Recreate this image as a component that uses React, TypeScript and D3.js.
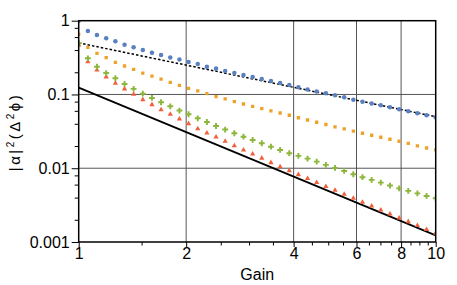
import React, { useRef, useEffect } from 'react';
import * as d3 from 'd3';

// gain samples (log spaced, 40 points from 1 to 10)
const gain = [
  1.0, 1.061, 1.125, 1.194, 1.267, 1.344, 1.425, 1.512, 1.604, 1.701,
  1.805, 1.915, 2.031, 2.155, 2.286, 2.425, 2.572, 2.729, 2.895, 3.071,
  3.257, 3.455, 3.666, 3.889, 4.125, 4.376, 4.642, 4.925, 5.224, 5.542,
  5.879, 6.236, 6.616, 7.018, 7.445, 7.898, 8.378, 8.887, 9.428, 10.0,
];

const blueVals = [
  1.0, 0.725, 0.64, 0.577, 0.526, 0.473, 0.436, 0.401, 0.368, 0.343,
  0.317, 0.297, 0.275, 0.259, 0.238, 0.224, 0.208, 0.195, 0.184, 0.173,
  0.162, 0.152, 0.143, 0.134, 0.125, 0.117, 0.11, 0.104, 0.0975, 0.0916,
  0.0851, 0.0798, 0.0757, 0.0714, 0.0671, 0.063, 0.0592, 0.0556, 0.0523, 0.0491,
];

const orangeVals = [
  0.654, 0.436, 0.361, 0.315, 0.273, 0.243, 0.219, 0.195, 0.177, 0.161,
  0.146, 0.133, 0.121, 0.112, 0.1025, 0.0933, 0.0869, 0.0798, 0.0743, 0.0691,
  0.0643, 0.0598, 0.0561, 0.0523, 0.0483, 0.0451, 0.042, 0.0392, 0.0364, 0.0341,
  0.0318, 0.0298, 0.028, 0.0263, 0.0247, 0.0232, 0.0217, 0.0201, 0.0188, 0.0177,
];

const greenVals = [
  0.5, 0.309, 0.238, 0.195, 0.166, 0.139, 0.119, 0.1025, 0.0897, 0.0784,
  0.0691, 0.0605, 0.054, 0.0475, 0.0424, 0.0374, 0.0334, 0.0298, 0.0268, 0.0242,
  0.0218, 0.0196, 0.0177, 0.016, 0.0147, 0.0135, 0.0123, 0.0111, 0.0101, 0.0092,
  0.0083, 0.00757, 0.00695, 0.00638, 0.00582, 0.00533, 0.00493, 0.00456, 0.00421, 0.00392,
];

const redVals = [
  0.47, 0.278, 0.215, 0.173, 0.142, 0.119, 0.1007, 0.0851, 0.0728, 0.0622,
  0.054, 0.0466, 0.0402, 0.0343, 0.0301, 0.0265, 0.0232, 0.0202, 0.0177, 0.0156,
  0.0137, 0.0119, 0.0105, 0.00928, 0.00819, 0.00725, 0.0064, 0.00566, 0.00503, 0.00444,
  0.00392, 0.00346, 0.00308, 0.00272, 0.0024, 0.00212, 0.00189, 0.00167, 0.00148, 0.00132,
];

// reference lines
const lineGain = [1, 10];
const dottedVals = [0.5, 0.05];
const solidVals = [0.124, 0.00123];

const xMajor = [1, 2, 4, 6, 8, 10];
const xMinor = [1.5, 2.5, 3, 3.5, 4.5, 5, 5.5, 6.5, 7, 7.5, 8.5, 9, 9.5];
const yMajor = [0.001, 0.01, 0.1, 1];
const yMinor = [0.002, 0.004, 0.006, 0.008, 0.02, 0.04, 0.06, 0.08, 0.2, 0.4, 0.6, 0.8];
const xGrid = [2, 4, 6, 8];
const yGrid = [0.01, 0.1];

const FONT = '"Liberation Sans", Arial, Helvetica, sans-serif';

function App() {
  const ref = useRef(null);

  useEffect(() => {
    const node = ref.current;
    node.querySelectorAll('*').forEach(n => n.remove());
    const svg = d3.select(node);

    const left = 78.7, right = 435.7, top = 20.7, bottom = 242;

    const x = d3.scaleLog().domain([1, 10]).range([left, right]);
    const y = d3.scaleLog().domain([0.001, 1]).range([bottom, top]);

    svg.append('defs').append('clipPath').attr('id', 'plotclip')
      .append('rect')
      .attr('x', left).attr('y', top)
      .attr('width', right - left).attr('height', bottom - top);

    // grid
    svg.append('g').selectAll('line').data(xGrid).join('line')
      .attr('x1', d => x(d)).attr('x2', d => x(d))
      .attr('y1', top).attr('y2', bottom)
      .attr('stroke', '#555').attr('stroke-width', 1);
    svg.append('g').selectAll('line').data(yGrid).join('line')
      .attr('x1', left).attr('x2', right)
      .attr('y1', d => y(d)).attr('y2', d => y(d))
      .attr('stroke', '#555').attr('stroke-width', 1);

    const plot = svg.append('g').attr('clip-path', 'url(#plotclip)');

    // reference lines
    const line = d3.line().x(d => x(d[0])).y(d => y(d[1]));
    plot.append('path')
      .attr('d', line(lineGain.map((g, i) => [g, solidVals[i]])))
      .attr('fill', 'none').attr('stroke', '#000').attr('stroke-width', 1.8);
    plot.append('path')
      .attr('d', line(lineGain.map((g, i) => [g, dottedVals[i]])))
      .attr('fill', 'none').attr('stroke', '#000').attr('stroke-width', 1.5)
      .attr('stroke-dasharray', '2.5,2');

    const series = [
      { vals: orangeVals, color: '#eda228', sym: d3.symbolSquare, size: 11 },
      { vals: redVals, color: '#f0603c', sym: d3.symbolTriangle, size: 12 },
      { vals: greenVals, color: '#8cb63c', sym: d3.symbolCross, size: 19 },
      { vals: blueVals, color: '#5a80c2', sym: d3.symbolCircle, size: 16 },
    ];

    series.forEach(s => {
      const path = d3.symbol().type(s.sym).size(s.size)();
      plot.append('g').selectAll('path').data(s.vals).join('path')
        .attr('d', path)
        .attr('transform', (d, i) => `translate(${x(gain[i])},${y(d)})`)
        .attr('fill', s.color);
    });

    // axes
    const fmt = d => (d >= 1 ? d3.format('d')(d) : String(d));
    const xAxis = d3.axisBottom(x).tickValues(xMajor).tickSize(5).tickPadding(1).tickFormat(fmt);
    const xAxisMinor = d3.axisBottom(x).tickValues(xMinor).tickSize(3.5).tickFormat(() => '');
    const yAxis = d3.axisLeft(y).tickValues(yMajor).tickSize(7).tickPadding(2).tickFormat(fmt);
    const yAxisMinor = d3.axisLeft(y).tickValues(yMinor).tickSize(4).tickFormat(() => '');

    [xAxis, xAxisMinor].forEach(a => {
      svg.append('g').attr('transform', `translate(0,${bottom})`).call(a)
        .call(g => g.select('.domain').remove());
    });
    [yAxis, yAxisMinor].forEach(a => {
      svg.append('g').attr('transform', `translate(${left},0)`).call(a)
        .call(g => g.select('.domain').remove());
    });

    svg.selectAll('.tick line').attr('stroke', '#000');
    svg.selectAll('.tick text')
      .attr('font-family', FONT).attr('font-size', 16).attr('fill', '#000');

    // frame
    svg.append('rect')
      .attr('x', left).attr('y', top)
      .attr('width', right - left).attr('height', bottom - top)
      .attr('fill', 'none').attr('stroke', '#000').attr('stroke-width', 1.5);

    // axis titles
    svg.append('text')
      .attr('x', (left + right) / 2).attr('y', 280)
      .attr('text-anchor', 'middle')
      .attr('font-family', FONT).attr('font-size', 16)
      .text('Gain');

    const yl = svg.append('text')
      .attr('transform', 'translate(20,132) rotate(-90)')
      .attr('text-anchor', 'middle')
      .attr('font-family', FONT).attr('font-size', 15)
      .attr('letter-spacing', 2.5);
    yl.append('tspan').text('|α|');
    yl.append('tspan').attr('dy', -6).attr('font-size', 10).text('2');
    yl.append('tspan').attr('dy', 6).text('(Δ');
    yl.append('tspan').attr('dy', -6).attr('font-size', 10).text('2');
    yl.append('tspan').attr('dy', 6).text('ϕ)');
  }, []);

  return (
    <svg
      width="457"
      height="285"
      ref={ref}
      style={{ position: 'absolute', left: 0, top: 0, background: '#fff' }}
    ></svg>
  );
}

export default App;
